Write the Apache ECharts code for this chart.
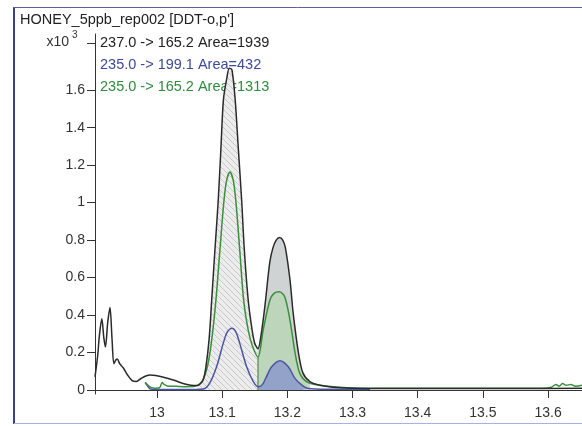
<!DOCTYPE html>
<html>
<head>
<meta charset="utf-8">
<script src="https://cdn.jsdelivr.net/npm/echarts@6/dist/echarts.min.js"></script>
<style>
  html, body { margin: 0; padding: 0; background: #fff; }
  #chart { width: 582px; height: 426px; }
</style>
</head>
<body>
<div id="chart"></div>
<script>
// 237.0 -> 165.2 (black trace)
var blackX = [12.905, 12.909, 12.912, 12.9155, 12.9185, 12.921, 12.9245, 12.928, 12.931, 12.934,
  12.937, 12.939, 12.943, 12.948, 12.955, 12.962, 12.968, 12.975, 12.983, 12.990,
  12.998, 13.010, 13.025, 13.040, 13.052, 13.062, 13.067, 13.071, 13.075, 13.080,
  13.084, 13.089, 13.094, 13.098, 13.102, 13.107, 13.111, 13.115, 13.120, 13.125,
  13.130, 13.134, 13.140, 13.146, 13.150, 13.155, 13.160, 13.166, 13.173, 13.178,
  13.183, 13.188, 13.193, 13.197, 13.204, 13.209, 13.217, 13.224, 13.235, 13.250,
  13.270, 13.300, 13.350, 13.450, 13.550, 13.652];
var blackY = [0.07, 0.18, 0.30, 0.38, 0.28, 0.23, 0.36, 0.44, 0.28, 0.14,
  0.16, 0.165, 0.14, 0.12, 0.08, 0.05, 0.045, 0.06, 0.075, 0.08,
  0.077, 0.068, 0.053, 0.035, 0.026, 0.024, 0.035, 0.055, 0.12, 0.27,
  0.48, 0.75, 1.01, 1.28, 1.55, 1.66, 1.717, 1.71, 1.55, 1.28,
  1.01, 0.75, 0.48, 0.32, 0.25, 0.22, 0.30, 0.46, 0.68, 0.76,
  0.80, 0.814, 0.80, 0.76, 0.59, 0.41, 0.20, 0.09, 0.044, 0.025,
  0.015, 0.01, 0.008, 0.008, 0.008, 0.01];

// 235.0 -> 165.2 (green trace)
var greenX = [12.982, 12.990, 12.998, 13.004, 13.008, 13.011, 13.016, 13.030, 13.045, 13.058,
  13.066, 13.072, 13.078, 13.084, 13.0905, 13.0966, 13.1028, 13.107, 13.112, 13.117,
  13.121, 13.127, 13.133, 13.140, 13.146, 13.155, 13.163, 13.1733, 13.180, 13.1876,
  13.196, 13.204, 13.212, 13.219, 13.230, 13.250, 13.280, 13.320, 13.400, 13.500,
  13.590, 13.605, 13.612, 13.617, 13.622, 13.628, 13.635, 13.642, 13.652];
var greenY = [0.04, 0.015, 0.01, 0.012, 0.04, 0.03, 0.022, 0.02, 0.018, 0.02,
  0.035, 0.064, 0.133, 0.267, 0.48, 0.747, 1.01, 1.12, 1.163, 1.12,
  1.01, 0.747, 0.48, 0.32, 0.24, 0.176, 0.32, 0.48, 0.517, 0.524,
  0.498, 0.373, 0.196, 0.09, 0.044, 0.025, 0.015, 0.01, 0.01, 0.01,
  0.01, 0.015, 0.03, 0.02, 0.035, 0.025, 0.03, 0.02, 0.025];

// 235.0 -> 199.1 (blue trace)
var blueX = [12.982, 12.986, 12.990, 13.000, 13.030, 13.060, 13.071, 13.081, 13.0915, 13.1017,
  13.108, 13.115, 13.121, 13.127, 13.1376, 13.148, 13.156, 13.162, 13.168, 13.176,
  13.1887, 13.2015, 13.2117, 13.222, 13.232, 13.260, 13.327];
var blueY = [0.04, 0.02, 0.005, 0.003, 0.003, 0.003, 0.005, 0.037, 0.124, 0.249,
  0.31, 0.329, 0.31, 0.249, 0.124, 0.044, 0.018, 0.03, 0.071, 0.124,
  0.156, 0.124, 0.062, 0.027, 0.008, 0.004, 0.004];

var xTicks = [13, 13.1, 13.2, 13.3, 13.4, 13.5, 13.6];
var yTicks = [0, 0.2, 0.4, 0.6, 0.8, 1, 1.2, 1.4, 1.6];
var traceLabels = ['237.0 -> 165.2 Area=1939', '235.0 -> 199.1 Area=432', '235.0 -> 165.2 Area=1313'];
var peak1Range = [13.062, 13.155];
var peak2Range = [13.155, 13.235];

function pairs(xs, ys, range) {
  var out = [];
  for (var i = 0; i < xs.length; i++) {
    if (!range || (xs[i] >= range[0] - 1e-9 && xs[i] <= range[1] + 1e-9)) out.push([xs[i], ys[i]]);
  }
  return out;
}

// diagonal hatch for the first integrated peak
function hatch() {
  var c = document.createElement('canvas');
  c.width = 6; c.height = 6;
  var g = c.getContext('2d');
  g.fillStyle = '#ececec';
  g.fillRect(0, 0, 6, 6);
  g.strokeStyle = '#c9c9c9';
  g.lineWidth = 1;
  g.beginPath();
  g.moveTo(0, 0); g.lineTo(6, 6);
  g.moveTo(-3, 3); g.lineTo(3, 9);
  g.moveTo(3, -3); g.lineTo(9, 3);
  g.stroke();
  return c;
}

var font = 'Liberation Sans';
var splitIdx = greenX.indexOf(peak2Range[0]);

var chart = echarts.init(document.getElementById('chart'), null, { renderer: 'canvas' });

function fill(data, color) {
  return {
    type: 'line', data: data, smooth: 0.3, symbol: 'none', silent: true, z: 1,
    lineStyle: { width: 0 }, areaStyle: { color: color, opacity: 1 }
  };
}
function trace(data, color) {
  return {
    type: 'line', data: data, smooth: 0.3, symbol: 'none', silent: true, z: 3,
    lineStyle: { color: color, width: 1.5 }
  };
}

var option = {
  animation: false,
  grid: { left: 95, right: 0, top: 34, bottom: 32 },
  xAxis: {
    type: 'value', min: 12.905, max: 13.652,
    axisLine: { show: true, lineStyle: { color: '#333', width: 1 } },
    axisTick: { show: true, length: 8, lineStyle: { color: '#333' }, customValues: xTicks },
    axisLabel: { customValues: xTicks, margin: 12, color: '#333', fontFamily: font, fontSize: 14 },
    splitLine: { show: false }
  },
  yAxis: {
    type: 'value', min: -0.0213, max: 1.9,
    axisLine: { show: true, lineStyle: { color: '#333', width: 1 } },
    axisTick: { show: true, length: 8, lineStyle: { color: '#333' }, customValues: yTicks.concat([1.85]) },
    axisLabel: { customValues: yTicks, margin: 10, color: '#333', fontFamily: font, fontSize: 14 },
    splitLine: { show: false }
  },
  series: [
    fill(pairs(blackX, blackY, peak1Range), { image: hatch(), repeat: 'repeat' }),
    fill(pairs(blackX, blackY, peak2Range), '#d0d3d3'),
    fill(pairs(greenX, greenY, peak2Range), '#bdd6bb'),
    fill(pairs(blueX, blueY, [peak2Range[0] + 0.001, peak2Range[1]]), '#93a2c8'),
    {
      type: 'line', symbol: 'none', silent: true, z: 2,
      data: [[greenX[splitIdx], 0], [greenX[splitIdx], greenY[splitIdx]]],
      lineStyle: { color: '#3a7a3a', width: 1 }
    },
    trace(pairs(blueX, blueY), '#4b55a3'),
    trace(pairs(greenX, greenY), '#3a8f3a'),
    trace(pairs(blackX, blackY), '#2b2b2b')
  ],
  graphic: [
    { type: 'line', shape: { x1: 14, y1: 7, x2: 14, y2: 424 }, style: { stroke: '#3b3f8c', lineWidth: 2 } },
    { type: 'line', shape: { x1: 13, y1: 7.5, x2: 582, y2: 7.5 }, style: { stroke: '#5b5f9c', lineWidth: 1 } },
    { type: 'line', shape: { x1: 14, y1: 423.5, x2: 582, y2: 423.5 }, style: { stroke: '#a7b2de', lineWidth: 1 } },
    { type: 'text', left: 20, top: 12, style: { text: "HONEY_5ppb_rep002 [DDT-o,p']", fill: '#222', font: '14.5px "' + font + '"' } },
    { type: 'text', right: 582 - 69, top: 35, style: { text: 'x10', fill: '#333', font: '14px "' + font + '"' } },
    { type: 'text', left: 72, top: 30, style: { text: '3', fill: '#333', font: '10px "' + font + '"' } },
    { type: 'text', left: 100, top: 35, style: { text: traceLabels[0], fill: '#222', font: '14.5px "' + font + '"' } },
    { type: 'text', left: 100, top: 57, style: { text: traceLabels[1], fill: '#3b4a9a', font: '14.5px "' + font + '"' } },
    { type: 'text', left: 100, top: 79, style: { text: traceLabels[2], fill: '#2f8a3c', font: '14.5px "' + font + '"' } }
  ]
};

chart.setOption(option);
</script>
</body>
</html>
